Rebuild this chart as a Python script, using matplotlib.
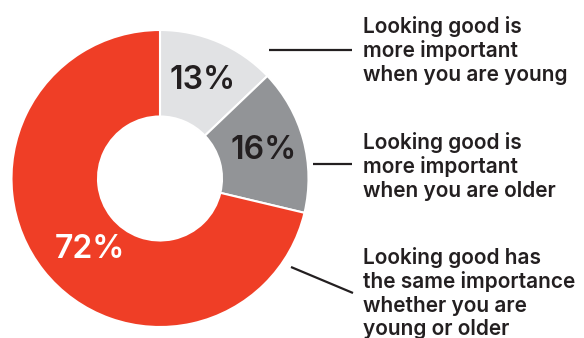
import matplotlib.pyplot as plt

# survey shares, clockwise from 12 o'clock
shares = [13, 16, 72]
colors = ["#E1E2E4", "#929497", "#EF3E26"]
pct_colors = ["#231F20", "#231F20", "white"]
answers = [
    "Looking good is\nmore important\nwhen you are young",
    "Looking good is\nmore important\nwhen you are older",
    "Looking good has\nthe same importance\nwhether you are\nyoung or older",
]

W, H = 584, 338
FONT = "Inter"


def py(y):
    # pixel row (top-down) to data y
    return H - y


fig = plt.figure(figsize=(W / 100, H / 100), dpi=100)
ax = fig.add_axes([0, 0, 1, 1])

cx, cy, r_out, r_in = 160, py(178.5), 148.5, 62
wedges, _, autotexts = ax.pie(
    shares, colors=colors, startangle=90, counterclock=False,
    center=(cx, cy), radius=r_out, frame=True,
    wedgeprops=dict(width=r_out - r_in, edgecolor="white", linewidth=1.5),
    autopct=lambda p: f"{p * sum(shares) / 100:.0f}%", pctdistance=0.72,
    textprops=dict(fontsize=23, fontfamily=FONT, fontweight="semibold"),
)
ax.set_xlim(0, W)
ax.set_ylim(0, H)
ax.set_aspect("equal")
ax.axis("off")
for t, c in zip(autotexts, pct_colors):
    t.set_color(c)
# nudge the big label toward the left side of the ring
autotexts[2].set_position((90, py(250)))

# answer text blocks on the right
text_tops = [16, 132, 247]
for top, label in zip(text_tops, answers):
    ax.text(363, py(top), label, ha="left", va="top", fontsize=15,
            fontfamily=FONT, fontweight="semibold", color="#231F20",
            linespacing=1.2)

# leader lines from the ring to each text block
leaders = [((269, 50), (352, 50)), ((313, 164), (352, 164)), ((291, 267), (353, 293))]
for (x0, y0), (x1, y1) in leaders:
    ax.plot([x0, x1], [py(y0), py(y1)], color="#231F20", lw=1.6,
            solid_capstyle="butt")

fig.savefig("out.png", dpi=100)
